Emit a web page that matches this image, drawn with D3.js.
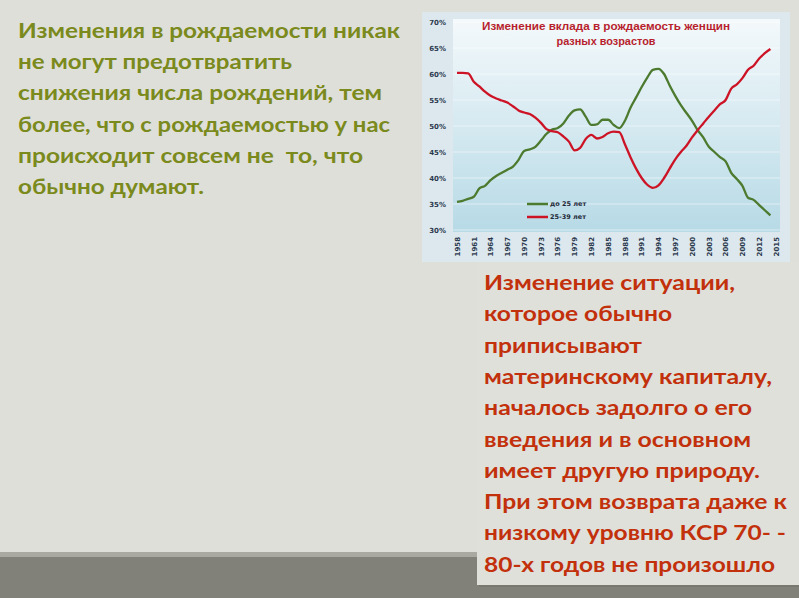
<!DOCTYPE html>
<html>
<head>
<meta charset="utf-8">
<script src="https://cdn.jsdelivr.net/npm/d3@7/dist/d3.min.js"></script>
<style>
  body { margin: 0; background: #dfdfd9; }
  svg { display: block; }
  .para { white-space: pre; }
</style>
</head>
<body>
<svg id="slide" width="799" height="598"></svg>
<script>
// years and shares (%) of births by mother's age group
var years = d3.range(1958, 2015);
var under25 = [35.4, 35.6, 36.0, 36.4, 38.0, 38.5, 39.6, 40.4, 41.0, 41.6,
  42.2, 43.5, 45.2, 45.5, 46.0, 47.2, 48.5, 49.3, 49.6, 50.5,
  52.0, 53.0, 53.2, 51.8, 50.2, 50.3, 51.2, 51.2, 50.2, 49.6,
  51.0, 53.5, 55.5, 57.5, 59.3, 60.8, 61.0, 60.0, 57.8, 55.8,
  54.0, 52.5, 51.0, 49.2, 47.8, 46.0, 45.0, 44.0, 43.2, 41.0,
  39.8, 38.5, 36.2, 35.8, 34.8, 33.8, 32.8];
var age25to39 = [60.2, 60.2, 60.1, 58.5, 57.6, 56.6, 55.8, 55.3, 54.9, 54.5,
  53.8, 53.0, 52.6, 52.3, 51.6, 50.6, 49.4, 49.0, 48.8, 48.0,
  47.0, 45.3, 45.8, 47.5, 48.3, 47.6, 47.9, 48.6, 48.9, 48.8,
  46.5, 44.0, 41.8, 40.0, 38.7, 38.1, 38.6, 40.0, 41.8, 43.6,
  45.0, 46.2, 47.8, 49.2, 50.5, 51.8, 53.0, 54.2, 55.0, 57.2,
  58.0, 59.2, 60.8, 61.6, 63.0, 64.0, 64.8];
var yTicks = [30, 35, 40, 45, 50, 55, 60, 65, 70];
var xTicks = d3.range(1958, 2016, 3);
var seriesNames = ["до 25 лет", "25-39 лет"];
var titleLines = ["Изменение вклада в рождаемость женщин", "разных возрастов"];

var leftText = ["Изменения в рождаемости никак", "не могут предотвратить",
  "снижения числа рождений, тем", "более, что с рождаемостью у нас",
  "происходит совсем не  то, что", "обычно думают."];
var rightText = ["Изменение ситуации,", "которое обычно", "приписывают",
  "материнскому капиталу,", "началось задолго о его", "введения и в основном",
  "имеет другую природу.", "При этом возврата даже к", "низкому уровню КСР 70- -",
  "80-х годов не произошло"];

// line widths measured off the slide, so the wide font is matched
var leftWidths = [382, 274, 364, 372, 345, 186];
var rightWidths = [251, 188, 158, 288, 268, 267, 276, 303, 302, 291];
var titleWidths = [248, 99];

var svg = d3.select("#slide");

// bottom band
svg.append("rect").attr("x", 0).attr("y", 552).attr("width", 799).attr("height", 6).attr("fill", "#a9a9a1");
svg.append("rect").attr("x", 0).attr("y", 557).attr("width", 799).attr("height", 41).attr("fill", "#81817a");
// right text box
svg.append("rect").attr("x", 479).attr("y", 264).attr("width", 320).attr("height", 323).attr("fill", "#6f6f68").attr("opacity", 0.5);
svg.append("rect").attr("x", 477).attr("y", 262).attr("width", 322).attr("height", 323).attr("fill", "#e0e0da");

// left paragraph
svg.append("g").selectAll("text").data(leftText).enter().append("text")
  .attr("class", "para")
  .attr("x", 18)
  .attr("y", function (d, i) { return 38 + i * 31.2; })
  .attr("textLength", function (d, i) { return leftWidths[i]; })
  .attr("lengthAdjust", "spacingAndGlyphs")
  .attr("font-family", "Lato, 'Open Sans', sans-serif")
  .attr("font-weight", "bold")
  .attr("font-size", 21)
  .attr("fill", "#7b8a1c")
  .text(function (d) { return d; });

// right paragraph
svg.append("g").selectAll("text").data(rightText).enter().append("text")
  .attr("class", "para")
  .attr("x", 484)
  .attr("y", function (d, i) { return 290 + i * 31.3; })
  .attr("textLength", function (d, i) { return rightWidths[i]; })
  .attr("lengthAdjust", "spacingAndGlyphs")
  .attr("font-family", "Lato, 'Open Sans', sans-serif")
  .attr("font-weight", "bold")
  .attr("font-size", 21)
  .attr("fill", "#c2300c")
  .text(function (d) { return d; });

// chart panel
var defs = svg.append("defs");
var grad = defs.append("linearGradient").attr("id", "plotbg").attr("x1", 0).attr("y1", 0).attr("x2", 0).attr("y2", 1);
grad.append("stop").attr("offset", "0%").attr("stop-color", "#f4f9fb");
grad.append("stop").attr("offset", "100%").attr("stop-color", "#b7dae6");

svg.append("rect").attr("x", 422).attr("y", 12).attr("width", 368).attr("height", 250).attr("fill", "#dde8ee");
svg.append("rect").attr("x", 453).attr("y", 19).attr("width", 327).attr("height", 213).attr("fill", "url(#plotbg)");

var x = d3.scaleLinear().domain([1958, 2015]).range([457, 776]);
var y = d3.scaleLinear().domain([30, 70]).range([230, 22]);

// gridlines
svg.append("g").selectAll("line").data(yTicks).enter().append("line")
  .attr("x1", 453).attr("x2", 780)
  .attr("y1", function (d) { return y(d); })
  .attr("y2", function (d) { return y(d); })
  .attr("stroke", "#ffffff").attr("stroke-opacity", 0.5).attr("stroke-width", 1);

// y axis labels
var yAxis = d3.axisLeft(y).tickValues(yTicks).tickSize(0).tickPadding(0)
  .tickFormat(function (d) { return d + "%"; });
var gy = svg.append("g").attr("transform", "translate(446,0)").call(yAxis);
gy.select(".domain").remove();
gy.selectAll("text").attr("font-family", "'DejaVu Sans', sans-serif").attr("font-weight", "bold")
  .attr("font-size", 7).attr("fill", "#2c3a4e");

// x axis labels
var xAxis = d3.axisBottom(x).tickValues(xTicks).tickSize(0).tickFormat(d3.format("d"));
var gx = svg.append("g").attr("transform", "translate(0,236)").call(xAxis);
gx.select(".domain").remove();
gx.selectAll("text")
  .attr("font-family", "'DejaVu Sans', sans-serif").attr("font-weight", "bold")
  .attr("font-size", 7).attr("fill", "#2c3a4e")
  .attr("transform", "rotate(-90)")
  .attr("text-anchor", "end")
  .attr("x", -1).attr("y", 0).attr("dy", "0.32em");

// title
svg.append("g").selectAll("text").data(titleLines).enter().append("text")
  .attr("x", 606)
  .attr("y", function (d, i) { return 30 + i * 15; })
  .attr("text-anchor", "middle")
  .attr("textLength", function (d, i) { return titleWidths[i]; })
  .attr("lengthAdjust", "spacingAndGlyphs")
  .attr("font-family", "'Liberation Sans Narrow', 'Liberation Sans', sans-serif")
  .attr("font-weight", "bold")
  .attr("font-size", 10)
  .attr("fill", "#b81f2e")
  .text(function (d) { return d; });

// lines
var line = d3.line()
  .x(function (d, i) { return x(years[i]); })
  .y(function (d) { return y(d); })
  .curve(d3.curveMonotoneX);

var colors = ["#4c7a2e", "#cc1426"];
[under25, age25to39].forEach(function (s, k) {
  svg.append("path").datum(s)
    .attr("d", line)
    .attr("fill", "none")
    .attr("stroke", colors[k])
    .attr("stroke-width", 2.3)
    .attr("stroke-linejoin", "round");
});

// legend
var legend = svg.append("g").selectAll("g").data(seriesNames).enter().append("g")
  .attr("transform", function (d, i) { return "translate(527," + (204 + i * 13) + ")"; });
legend.append("line").attr("x1", 0).attr("x2", 21).attr("y1", 0).attr("y2", 0)
  .attr("stroke", function (d, i) { return colors[i]; }).attr("stroke-width", 2.5);
legend.append("text").attr("x", 23).attr("y", 0).attr("dy", "0.35em")
  .attr("font-family", "'DejaVu Sans', sans-serif").attr("font-weight", "bold")
  .attr("font-size", 6.5).attr("fill", "#1f2a3a")
  .text(function (d) { return d; });
</script>
</body>
</html>
